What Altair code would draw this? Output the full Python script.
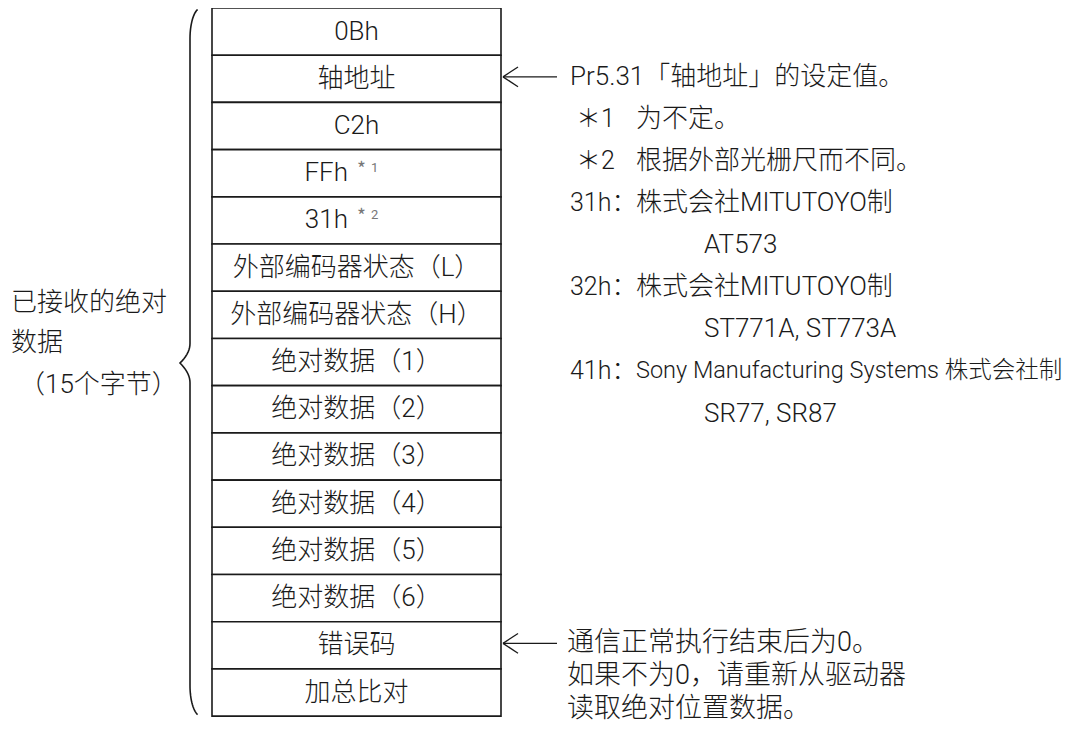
import altair as alt
import pandas as pd
import numpy as np

FONT = "Roboto, 'Noto Sans CJK SC'"
CJK = "Noto Sans CJK SC"
INK = "#1a1a1a"

# ---- content -------------------------------------------------------------
rows = ["0Bh", "轴地址", "C2h", "FFh", "31h",
        "外部编码器状态（L）", "外部编码器状态（H）",
        "绝对数据（1）", "绝对数据（2）", "绝对数据（3）",
        "绝对数据（4）", "绝对数据（5）", "绝对数据（6）",
        "错误码", "加总比对"]
row_marks = ["", "", "", "1", "2", "", "", "", "", "", "", "", "", "", ""]

brace_lines = ["已接收的绝对", "数据", "（15个字节）"]

top_arrow_row = 1
top_keys = ["", "＊1", "＊2", "31h：", "", "32h：", "", "41h：", ""]
top_texts = ["Pr5.31「轴地址」的设定值。", "为不定。", "根据外部光栅尺而不同。",
             "株式会社MITUTOYO制", "AT573",
             "株式会社MITUTOYO制", "ST771A, ST773A",
             "Sony Manufacturing Systems 株式会社制", "SR77, SR87"]
top_levels = [0, 1, 1, 1, 2, 1, 2, 1, 2]

bottom_arrow_row = 13
bottom_texts = ["通信正常执行结束后为0。", "如果不为0，请重新从驱动器", "读取绝对位置数据。"]

# ---- layout (pixels of the 1082x735 picture) ------------------------------
TOP, ROW_H = 5, 48
BOX_L, BOX_R = 212, 501
BOX_C = (BOX_L + BOX_R) / 2
n = len(rows)
XDOM = [8, 1074]
YDOM = [5, 732]
H = 715

box = pd.DataFrame({"label": rows, "mark": row_marks, "i": range(n)})
box["y0"] = TOP + box["i"] * ROW_H
box["y1"] = box["y0"] + ROW_H
box["yc"] = box["y0"] + ROW_H / 2
box["x0"] = BOX_L
box["x1"] = BOX_R
box["has_mark"] = box["mark"] != ""
box["xt"] = np.where(box["has_mark"], 348, BOX_C)
box["xa"] = 357
box["xd"] = 371


def xs(f):
    return alt.X(f, type="quantitative", scale=alt.Scale(domain=XDOM), axis=None)


def ys(f):
    return alt.Y(f, type="quantitative", scale=alt.Scale(domain=YDOM, reverse=True), axis=None)


X, Y = xs("x"), ys("y")

rects = alt.Chart(box).mark_rect(fill="white", stroke=INK, strokeWidth=1.6).encode(
    x=xs("x0"), x2="x1", y=ys("y0"), y2="y1")

plain = box[~box["has_mark"]]
marked = box[box["has_mark"]]
txt = dict(font=FONT, fontSize=26, fontWeight=300, color=INK, baseline="middle")
lab_plain = alt.Chart(plain).mark_text(align="center", **txt).encode(
    x=xs("xt"), y=ys("yc"), text="label:N")
lab_marked = alt.Chart(marked).mark_text(align="right", **txt).encode(
    x=xs("xt"), y=ys("yc"), text="label:N")
lab_star = alt.Chart(marked).mark_text(font=CJK, fontSize=19, color="#777", align="left",
                                       baseline="middle", dy=-3).encode(
    x=xs("xa"), y=ys("yc"), text=alt.value("*"))
lab_digit = alt.Chart(marked).mark_text(font=FONT, fontSize=13, color="#777", align="left",
                                        baseline="middle", dy=-5).encode(
    x=xs("xd"), y=ys("yc"), text="mark:N")

# brace
t = np.linspace(0, np.radians(72), 16)
top_arc = pd.DataFrame({"x": 201 - 11 * np.cos(t[::-1]), "y": 36 - 31 * np.sin(t[::-1])})
u = np.linspace(0, 1, 10)
mid_up = pd.DataFrame({"x": 190 - 10 * u ** 2, "y": 346 + 20 * u})
mid_dn = pd.DataFrame({"x": 190 - 10 * (1 - u) ** 2, "y": 366 + 20 * u})
bot_arc = pd.DataFrame({"x": 201 - 11 * np.cos(t), "y": 694 + 31 * np.sin(t)})
brace = pd.concat([top_arc, mid_up, mid_dn, bot_arc], ignore_index=True)
brace["o"] = range(len(brace))
brace_chart = alt.Chart(brace).mark_line(color=INK, strokeWidth=1.6).encode(
    x=X, y=Y, order="o:Q")

left = pd.DataFrame({"text": brace_lines, "x": [11, 11, 19], "y": [305, 346, 388]})
left_chart = alt.Chart(left).mark_text(align="left", **txt).encode(
    x=X, y=Y, text="text:N")

# arrows
segs = []
for k, r in enumerate([top_arrow_row, bottom_arrow_row]):
    yc = TOP + r * ROW_H + ROW_H / 2 - 2
    tip = BOX_R + 2
    segs += [dict(x=tip, y=yc, x2=tip + 54, y2=yc),
             dict(x=tip, y=yc, x2=tip + 15, y2=yc - 10),
             dict(x=tip, y=yc, x2=tip + 15, y2=yc + 10)]
arrows = alt.Chart(pd.DataFrame(segs)).mark_rule(color=INK, strokeWidth=1.3).encode(
    x=X, y=Y, x2="x2:Q", y2="y2:Q")

# right notes
LEVEL_X = [570, 636, 704]
y0 = TOP + top_arrow_row * ROW_H + ROW_H / 2 - 2
note = pd.DataFrame({"key": top_keys, "text": top_texts, "lv": top_levels})
note["y"] = y0 + np.arange(len(note)) * 42.8
note["x"] = [LEVEL_X[l] for l in note["lv"]]
note["xk"] = [576 if k.startswith("＊") else 570 for k in note["key"]]
note["long"] = note["text"].str.len() > 24
note_chart = alt.Chart(note[~note["long"]]).mark_text(align="left", **txt).encode(
    x=X, y=Y, text="text:N")
note_long = alt.Chart(note[note["long"]]).mark_text(align="left", **{**txt, "fontSize": 23.5}).encode(
    x=X, y=Y, text="text:N")
key_chart = alt.Chart(note[note["key"] != ""]).mark_text(align="left", **{**txt, "fontSize": 25}).encode(
    x=xs("xk"), y=Y, text="key:N")

yb = TOP + bottom_arrow_row * ROW_H + ROW_H / 2 - 2
bot = pd.DataFrame({"text": bottom_texts})
bot["y"] = yb + np.arange(len(bot)) * 33.5
bot["x"] = 567
bot_chart = alt.Chart(bot).mark_text(align="left", **{**txt, "fontSize": 27}).encode(
    x=X, y=Y, text="text:N")

chart = alt.layer(rects, brace_chart, arrows, lab_plain, lab_marked, lab_star, lab_digit,
                  left_chart, note_chart, note_long, key_chart, bot_chart).properties(
    width=XDOM[1] - XDOM[0], height=H, padding=0, background="white",
    autosize=alt.AutoSizeParams(type="none")
).configure_view(stroke=None)

chart.save("out.html", embed_options={"renderer": "svg", "actions": False})
